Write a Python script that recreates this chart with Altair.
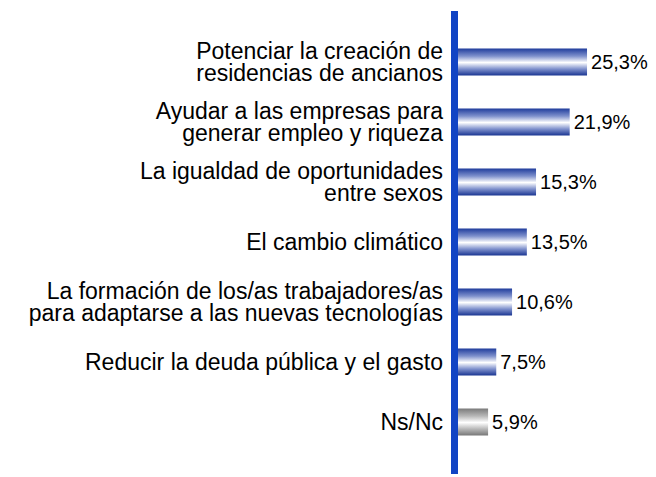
import altair as alt
import pandas as pd

categories = [
    "Potenciar la creación de\nresidencias de ancianos",
    "Ayudar a las empresas para\ngenerar empleo y riqueza",
    "La igualdad de oportunidades\nentre sexos",
    "El cambio climático",
    "La formación de los/as trabajadores/as\npara adaptarse a las nuevas tecnologías",
    "Reducir la deuda pública y el gasto",
    "Ns/Nc",
]
values = [25.3, 21.9, 15.3, 13.5, 10.6, 7.5, 5.9]
groups = ["main", "main", "main", "main", "main", "main", "nsnc"]

df = pd.DataFrame({"cat": categories, "value": values, "group": groups})
df["label"] = df["value"].map(lambda v: f"{v:.1f}".replace(".", ",") + "%")
df["nlines"] = df["cat"].map(lambda s: s.count("\n") + 1)

blue_grad = alt.Gradient(
    gradient="linear",
    x1=0, y1=0, x2=0, y2=1,
    stops=[
        alt.GradientStop(color="#1F3C9C", offset=0),
        alt.GradientStop(color="#7E90CC", offset=0.28),
        alt.GradientStop(color="#FFFFFF", offset=0.52),
        alt.GradientStop(color="#7E90CC", offset=0.76),
        alt.GradientStop(color="#1A3592", offset=1),
    ],
)
gray_grad = alt.Gradient(
    gradient="linear",
    x1=0, y1=0, x2=0, y2=1,
    stops=[
        alt.GradientStop(color="#7A7A7A", offset=0),
        alt.GradientStop(color="#B8B8B8", offset=0.28),
        alt.GradientStop(color="#FFFFFF", offset=0.52),
        alt.GradientStop(color="#B8B8B8", offset=0.76),
        alt.GradientStop(color="#777777", offset=1),
    ],
)

x_enc = alt.X("value:Q", scale=alt.Scale(domain=[0, 30], nice=False), axis=None)
y_enc = alt.Y("cat:N", sort=categories, scale=alt.Scale(paddingInner=0, paddingOuter=0), axis=None)

base = alt.Chart(df)

bars_main = base.transform_filter(alt.datum.group == "main").mark_bar(
    height=27, color=blue_grad
).encode(x=x_enc, y=y_enc)

bars_gray = base.transform_filter(alt.datum.group == "nsnc").mark_bar(
    height=27, color=gray_grad
).encode(x=x_enc, y=y_enc)

value_text = base.mark_text(
    align="left", baseline="middle", dx=4, dy=1, fontSize=20,
    font="Liberation Sans", color="#000000"
).encode(x=x_enc, y=y_enc, text="label:N")

text_style = dict(
    align="right", baseline="middle", fontSize=23, lineHeight=22,
    lineBreak="\n", font="Liberation Sans", color="#000000"
)

cat_text_1 = base.transform_filter(alt.datum.nlines == 1).mark_text(
    dy=1, **text_style
).encode(x=alt.value(-15), y=y_enc, text="cat:N")

cat_text_2 = base.transform_filter(alt.datum.nlines == 2).mark_text(
    dy=-10, **text_style
).encode(x=alt.value(-15), y=y_enc, text="cat:N")

axis_line = base.mark_rule(color="#1144C4", strokeWidth=7).encode(
    x=alt.value(-3.5), y=alt.value(-21), y2=alt.value(445)
)

chart = alt.layer(
    bars_main, bars_gray, value_text, cat_text_1, cat_text_2, axis_line
).properties(
    width=153,
    height=420,
    autosize=alt.AutoSizeParams(type="none"),
    padding={"left": 450, "top": 24, "right": 37, "bottom": 22},
).configure(background="white").configure_view(stroke=None, strokeWidth=0)

chart.save("out.html", embed_options={"renderer": "svg", "actions": False})
